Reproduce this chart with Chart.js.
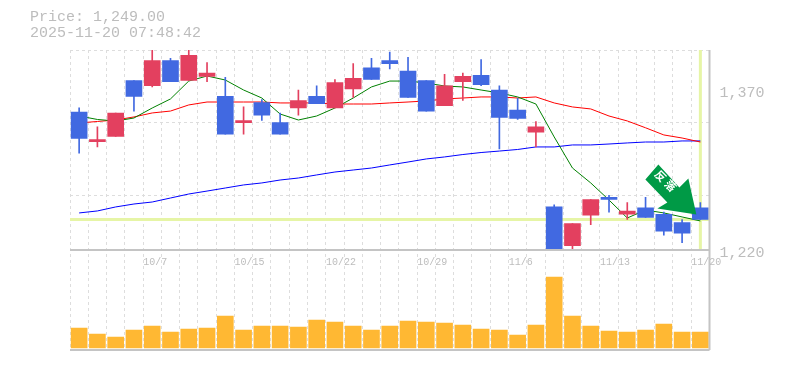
<!DOCTYPE html>
<html>
<head>
<meta charset="utf-8">
<script src="https://cdn.jsdelivr.net/npm/chart.js@4"></script>
<style>
  html, body { margin: 0; background: #fff; }
  #wrap { position: relative; width: 785px; height: 370px; overflow: hidden; }
  #title { position: absolute; left: 30px; top: 10px; font: 15px/16px 'Liberation Mono', monospace; color: #bdbdbd; white-space: pre; }
  canvas { position: absolute; left: 0; top: 0; }
</style>
</head>
<body>
<div id="wrap">
  <canvas id="chart" width="785" height="370"></canvas>
  <div id="title">Price: 1,249.00
2025-11-20 07:48:42</div>
</div>
<script>
const dates = ['10/1','10/2','10/3','10/6','10/7','10/8','10/9','10/10','10/14','10/15','10/16','10/17','10/20','10/21','10/22','10/23','10/24','10/27','10/28','10/29','10/30','10/31','11/4','11/5','11/6','11/7','11/10','11/11','11/12','11/13','11/14','11/17','11/18','11/19','11/20'];

const opens  = [1351,1323,1328,1381,1376,1400,1381,1385,1366,1341,1360,1341,1355,1366,1355,1373,1393,1400,1390,1381,1357,1380,1386,1372,1353,1332,1261,1224,1253,1270,1254,1260,1254,1246,1260];
const highs  = [1355,1337,1350,1381,1415,1402,1415,1398,1384,1356,1363,1350,1372,1376,1382,1397,1402,1408,1403,1381,1387,1388,1401,1376,1364,1342,1263,1245,1268,1272,1265,1270,1256,1249,1265];
const lows   = [1312,1318,1328,1352,1375,1380,1381,1380,1330,1330,1343,1330,1348,1359,1355,1365,1382,1392,1365,1352,1357,1362,1376,1316,1344,1318,1218,1219,1244,1256,1249,1251,1234,1227,1249];
const closes = [1326,1325,1350,1366,1400,1380,1405,1388,1330,1343,1348,1330,1362,1359,1379,1383,1382,1397,1365,1352,1376,1385,1377,1346,1345,1337,1218,1245,1268,1268,1257,1251,1238,1236,1249];

const maShort = [1347.3,1344,1342.5,1345.4,1354.9,1363.5,1380.5,1385.3,1381.5,1372,1364.4,1349.2,1343.5,1347.3,1354.9,1364.4,1374.9,1380.5,1380.5,1378.7,1375.8,1374.9,1372,1369.2,1365.4,1358.7,1327.4,1297.9,1283.7,1267.5,1250.4,1258,1255.2,1251.4,1247.6];
const maMid   = [1340.7,1342.1,1343.5,1346.4,1350.2,1352,1357.8,1360.6,1360.6,1360.6,1360.6,1359.7,1359.7,1359.7,1358.7,1358.7,1358.7,1359.7,1360.6,1361.6,1363.5,1364.4,1365.4,1365.4,1364.4,1365.4,1359.7,1355.9,1354,1347.3,1342.6,1336.1,1329.3,1326.4,1322.6];
const maLong  = [1255.2,1257.1,1260.9,1263.7,1265.6,1269.4,1273.2,1276,1278.9,1281.8,1283.7,1286.5,1288.4,1291.3,1294.1,1296,1297.9,1300.8,1303.6,1306.5,1308.4,1310.7,1312.6,1314,1315.5,1317.9,1317.9,1319.8,1319.8,1320.7,1321.7,1322.6,1322.6,1323.6,1323.6];

const volumes = [20,14,11,18,22,16,19,20,32,18,22,22,21,28,26,22,18,22,27,26,25,23,19,18,13,23,71,32,22,17,16,18,24,16,16];

const priceTicks = [1410,1372,1334,1296,1258,1220];
const priceTickLabels = ['1,410','1,370','1,330','1,300','1,260','1,220'];
const lastPrice = 1249;

const UP = '#e3405f', DOWN = '#4169e1', GUIDE = '#e6f5a6', AXIS = '#c4c4c4', TEXT = '#bdbdbd', GRID = '#dddddd';
const candleColors = closes.map((c, i) => c >= opens[i] ? UP : DOWN);

// one tick per dashed row (11 rows), plus the ticks that carry a label
const gridRows = Array.from({ length: 11 }, (_, i) => 1410 - i * 190 / 11);

// panel lines, the two pale guides and the signal arrow
const overlays = {
  id: 'overlays',
  beforeDatasetsDraw(chart) {
    const { ctx, chartArea: a, scales } = chart;
    const y = scales.yPrice.getPixelForValue(lastPrice);
    const x = scales.x.getPixelForValue(dates.length - 1);
    ctx.save();
    ctx.strokeStyle = GUIDE;
    ctx.lineWidth = 3;
    ctx.beginPath();
    ctx.moveTo(a.left, y); ctx.lineTo(a.right, y);
    ctx.moveTo(x, a.top); ctx.lineTo(x, scales.yPrice.bottom - 1);
    ctx.stroke();
    ctx.restore();
  },
  afterDraw(chart) {
    const { ctx, chartArea: a, scales } = chart;
    const mid = scales.yPrice.bottom;
    ctx.save();
    ctx.strokeStyle = AXIS;
    ctx.lineWidth = 2;
    ctx.beginPath();
    ctx.moveTo(a.left, mid); ctx.lineTo(a.right, mid);
    ctx.moveTo(a.left, a.bottom); ctx.lineTo(a.right, a.bottom);
    ctx.moveTo(a.right, a.top); ctx.lineTo(a.right, a.bottom);
    ctx.stroke();

    // arrow, anchored on the last candle
    const tx = scales.x.getPixelForValue(dates.length - 1) - 4;
    const ty = scales.yPrice.getPixelForValue(closes[closes.length - 1]) - 5;
    const shape = [[-38,-50],[-51,-35],[-29,-12],[-39,-6],[0,0],[-8,-36],[-17,-27]];
    ctx.fillStyle = '#009a46';
    ctx.beginPath();
    shape.forEach(([dx, dy], i) => i ? ctx.lineTo(tx + dx, ty + dy) : ctx.moveTo(tx + dx, ty + dy));
    ctx.closePath();
    ctx.fill();

    ctx.translate(tx - 30, ty - 33);
    ctx.rotate(Math.PI / 4);
    ctx.fillStyle = '#fff';
    ctx.font = 'bold 11px "Noto Sans CJK JP"';
    ctx.textAlign = 'center';
    ctx.textBaseline = 'middle';
    ctx.fillText('反', -8, 0);
    ctx.fillText('落', 6, 0);
    ctx.restore();
  }
};

new Chart(document.getElementById('chart'), {
  type: 'bar',
  data: {
    labels: dates,
    datasets: [
      { data: opens.map((o, i) => [o, closes[i]]), yAxisID: 'yPrice', backgroundColor: candleColors, barThickness: 16, grouped: false, order: 1 },
      { data: lows.map((l, i) => [l, highs[i]]), yAxisID: 'yPrice', backgroundColor: candleColors, barThickness: 1, grouped: false, order: 2 },
      { type: 'line', data: maShort, yAxisID: 'yPrice', borderColor: '#008000', borderWidth: 1, pointRadius: 0, tension: 0, order: 3 },
      { type: 'line', data: maMid, yAxisID: 'yPrice', borderColor: '#ff0000', borderWidth: 1, pointRadius: 0, tension: 0, order: 4 },
      { type: 'line', data: maLong, yAxisID: 'yPrice', borderColor: '#0000ff', borderWidth: 1, pointRadius: 0, tension: 0, order: 5 },
      { data: volumes, yAxisID: 'yVol', backgroundColor: '#ffb833', barThickness: 16, grouped: false, order: 6 }
    ]
  },
  options: {
    responsive: false,
    animation: false,
    layout: { padding: { left: 70, top: 50, bottom: 20, right: 0 } },
    plugins: { legend: { display: false }, tooltip: { enabled: false }, title: { display: false } },
    scales: {
      x: {
        position: { yPrice: 1220 },
        grid: { color: GRID, drawTicks: false, tickBorderDash: [3, 3] },
        border: { display: false, dash: [3, 3] },
        ticks: {
          autoSkip: false,
          maxRotation: 0,
          align: 'start',
          labelOffset: -9,
          padding: 6,
          color: TEXT,
          font: { family: 'Liberation Mono', size: 10 },
          callback: (v, i) => (i % 5 === 4 ? dates[i] : '')
        }
      },
      yPrice: {
        position: 'right',
        stack: 'panels',
        stackWeight: 2,
        min: 1220,
        max: 1410,
        afterBuildTicks: s => { s.ticks = gridRows.concat(priceTicks).map(value => ({ value })); },
        afterFit: s => { s.width = 75.5; },
        grid: {
          drawTicks: false,
          color: c => (c.index < gridRows.length ? GRID : 'rgba(0,0,0,0)')
        },
        border: { display: false, dash: [3, 3] },
        ticks: {
          padding: 10,
          labelOffset: 3,
          color: TEXT,
          font: { family: 'Liberation Mono', size: 15 },
          callback: (v, i) => (i < gridRows.length ? '' : priceTickLabels[i - gridRows.length])
        }
      },
      yVol: {
        position: 'right',
        stack: 'panels',
        stackWeight: 1,
        min: -2,
        max: 98,
        afterFit: s => { s.width = 75.5; },
        grid: { display: false },
        border: { display: false },
        ticks: { display: false }
      }
    }
  },
  plugins: [overlays]
});
</script>
</body>
</html>
